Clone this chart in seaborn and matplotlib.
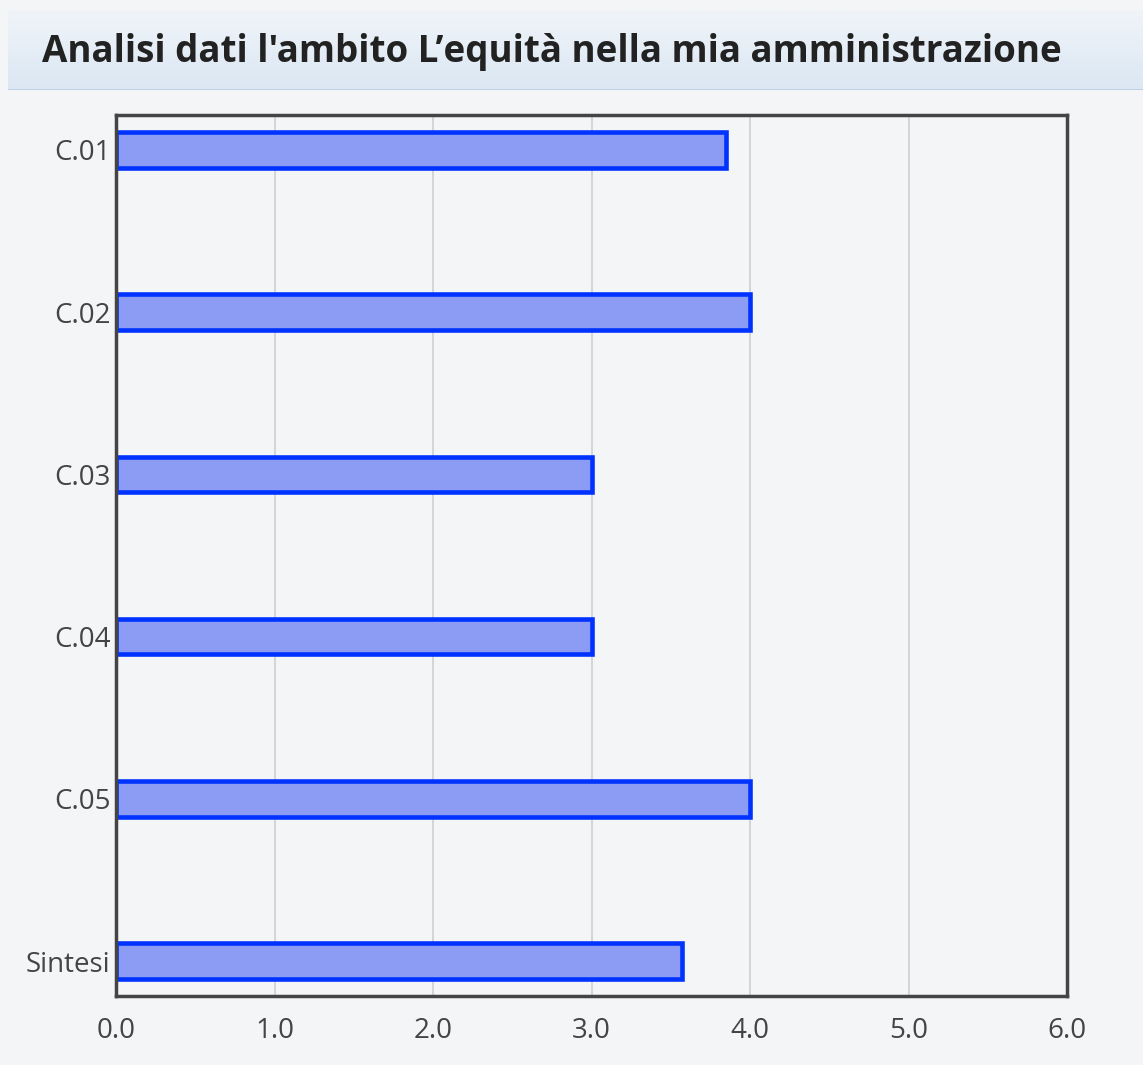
import numpy as np
import pandas as pd
import matplotlib
matplotlib.use('Agg')
import matplotlib.pyplot as plt
import seaborn as sns

# values
categories = ['C.01', 'C.02', 'C.03', 'C.04', 'C.05', 'Sintesi']
values = [3.85, 4.0, 3.0, 3.0, 4.0, 3.57]
x_ticks = [0, 1, 2, 3, 4, 5, 6]
x_labels = ['0.0', '1.0', '2.0', '3.0', '4.0', '5.0', '6.0']
title = "Analisi dati l'ambito L\u2019equità nella mia amministrazione"

df = pd.DataFrame({'cat': categories, 'val': values})

sns.set_theme(style='white')
plt.rcParams['font.family'] = ['Open Sans', 'DejaVu Sans']

W, H = 1143, 1065
fig = plt.figure(figsize=(W / 100, H / 100), dpi=100)
fig.patch.set_facecolor('#f4f5f7')

# title band with soft gradient
band = fig.add_axes([8 / W, 1 - 90 / H, 1 - 8 / W, 80 / H])
grad = np.linspace(0, 1, 50).reshape(-1, 1)
band.imshow(grad, aspect='auto', cmap=matplotlib.colors.LinearSegmentedColormap.from_list(
    'band', ['#f0f4f9', '#dbe7f3']), extent=[0, 1, 0, 1])
band.axhline(0.0, color='#b9cde3', lw=2)
band.set_xlim(0, 1)
band.set_ylim(0, 1)
band.axis('off')
band.text(34 / (W - 8), 0.47, title, fontsize=26.5, fontweight='bold',
          color='#222222', va='center', ha='left')

ax = fig.add_axes([116 / W, 1 - 996 / H, (1067 - 116) / W, (996 - 115) / H])
ax.set_facecolor('#f4f5f7')
sns.barplot(data=df, x='val', y='cat', orient='h', ax=ax, width=0.22,
            color='#8c9cf5', edgecolor='#0033ff', linewidth=3.3, saturation=1)

ax.set_xlim(0, 6)
ax.set_ylim(5.215, -0.215)
ax.set_xticks(x_ticks)
ax.set_xticklabels(x_labels)
ax.xaxis.grid(True, color='#cfcfcf', lw=1.2)
ax.set_axisbelow(True)
ax.set_xlabel('')
ax.set_ylabel('')
ax.tick_params(axis='both', labelsize=20, labelcolor='#444444', length=0)
ax.tick_params(axis='x', pad=15)
ax.tick_params(axis='y', pad=4)
for s in ax.spines.values():
    s.set_visible(True)
    s.set_color('#444444')
    s.set_linewidth(2.5)

fig.savefig('out.png', dpi=100, facecolor=fig.get_facecolor())
